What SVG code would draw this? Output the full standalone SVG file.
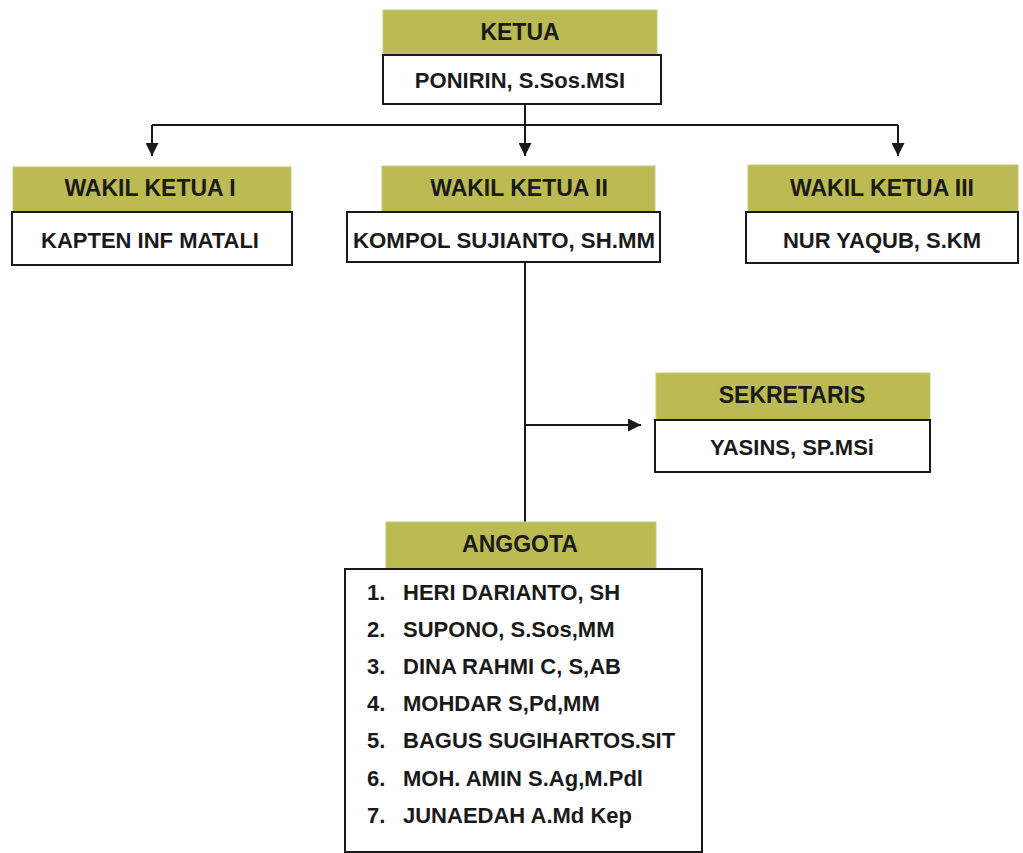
<svg xmlns="http://www.w3.org/2000/svg" width="1023" height="853" viewBox="0 0 1023 853">
<defs>
<style>
.hd{fill:#bcba52;stroke:#c9c77a;stroke-width:1}
.bx{fill:#ffffff;stroke:#1a1a1a;stroke-width:2}
.h{font-family:"Liberation Sans",Arial,sans-serif;font-weight:bold;font-size:23px;fill:#1a1a1a;text-anchor:middle}
.t{font-family:"Liberation Sans",Arial,sans-serif;font-weight:bold;font-size:22px;fill:#1a1a1a;text-anchor:middle}
.l{font-family:"Liberation Sans",Arial,sans-serif;font-weight:bold;font-size:22px;fill:#1a1a1a}
.c{fill:none;stroke:#1a1a1a;stroke-width:2}
</style>
<marker id="ar2" viewBox="0 0 12 12" refX="12" refY="6" markerWidth="13" markerHeight="13" orient="auto" markerUnits="userSpaceOnUse">
<path d="M0,0 L12,6 L0,12 z" fill="#1a1a1a"/>
</marker>
</defs>
<rect width="1023" height="853" fill="#ffffff"/>
<g id="connectors">
<path class="c" d="M525,104 V125"/>
<path class="c" d="M152,125 H898"/>
<path class="c" d="M152,125 V156" marker-end="url(#ar2)"/>
<path class="c" d="M525,125 V156" marker-end="url(#ar2)"/>
<path class="c" d="M898,125 V156" marker-end="url(#ar2)"/>
<path class="c" d="M525,262 V545"/>
<path class="c" d="M525,425 H641" marker-end="url(#ar2)"/>
</g>
<g id="ketua">
<rect class="hd" x="383" y="10" width="274" height="45"/>
<rect class="bx" x="383" y="55" width="278" height="49"/>
<text class="h" x="520" y="40">KETUA</text>
<text class="t" x="520" y="88">PONIRIN, S.Sos.MSI</text>
</g>
<g id="wakil1">
<rect class="hd" x="13" y="167" width="278" height="45"/>
<rect class="bx" x="12" y="212" width="280" height="53"/>
<text class="h" x="150" y="196">WAKIL KETUA I</text>
<text class="t" x="150" y="248">KAPTEN INF MATALI</text>
</g>
<g id="wakil2">
<rect class="hd" x="382" y="166" width="273" height="46"/>
<rect class="bx" x="347" y="212" width="313" height="50"/>
<text class="h" x="519" y="196">WAKIL KETUA II</text>
<text class="t" x="504" y="248" textLength="302" lengthAdjust="spacingAndGlyphs">KOMPOL SUJIANTO, SH.MM</text>
</g>
<g id="wakil3">
<rect class="hd" x="748" y="165" width="270" height="47"/>
<rect class="bx" x="746" y="212" width="272" height="51"/>
<text class="h" x="882" y="196">WAKIL KETUA III</text>
<text class="t" x="882" y="248">NUR YAQUB, S.KM</text>
</g>
<g id="sekretaris">
<rect class="hd" x="656" y="373" width="274" height="47"/>
<rect class="bx" x="655" y="420" width="275" height="52"/>
<text class="h" x="792" y="403">SEKRETARIS</text>
<text class="t" x="792" y="455">YASINS, SP.MSi</text>
</g>
<g id="anggota">
<rect class="hd" x="386" y="522" width="270" height="47"/>
<rect class="bx" x="345" y="569" width="357" height="283"/>
<text class="h" x="520" y="552">ANGGOTA</text>
<text class="l" x="367" y="600">1.</text><text class="l" x="403" y="600">HERI DARIANTO, SH</text>
<text class="l" x="367" y="637">2.</text><text class="l" x="403" y="637">SUPONO, S.Sos,MM</text>
<text class="l" x="367" y="674">3.</text><text class="l" x="403" y="674">DINA RAHMI C, S,AB</text>
<text class="l" x="367" y="711">4.</text><text class="l" x="403" y="711">MOHDAR S,Pd,MM</text>
<text class="l" x="367" y="748">5.</text><text class="l" x="403" y="748">BAGUS SUGIHARTOS.SIT</text>
<text class="l" x="367" y="786">6.</text><text class="l" x="403" y="786">MOH. AMIN S.Ag,M.Pdl</text>
<text class="l" x="367" y="823">7.</text><text class="l" x="403" y="823">JUNAEDAH A.Md Kep</text>
</g>
</svg>
